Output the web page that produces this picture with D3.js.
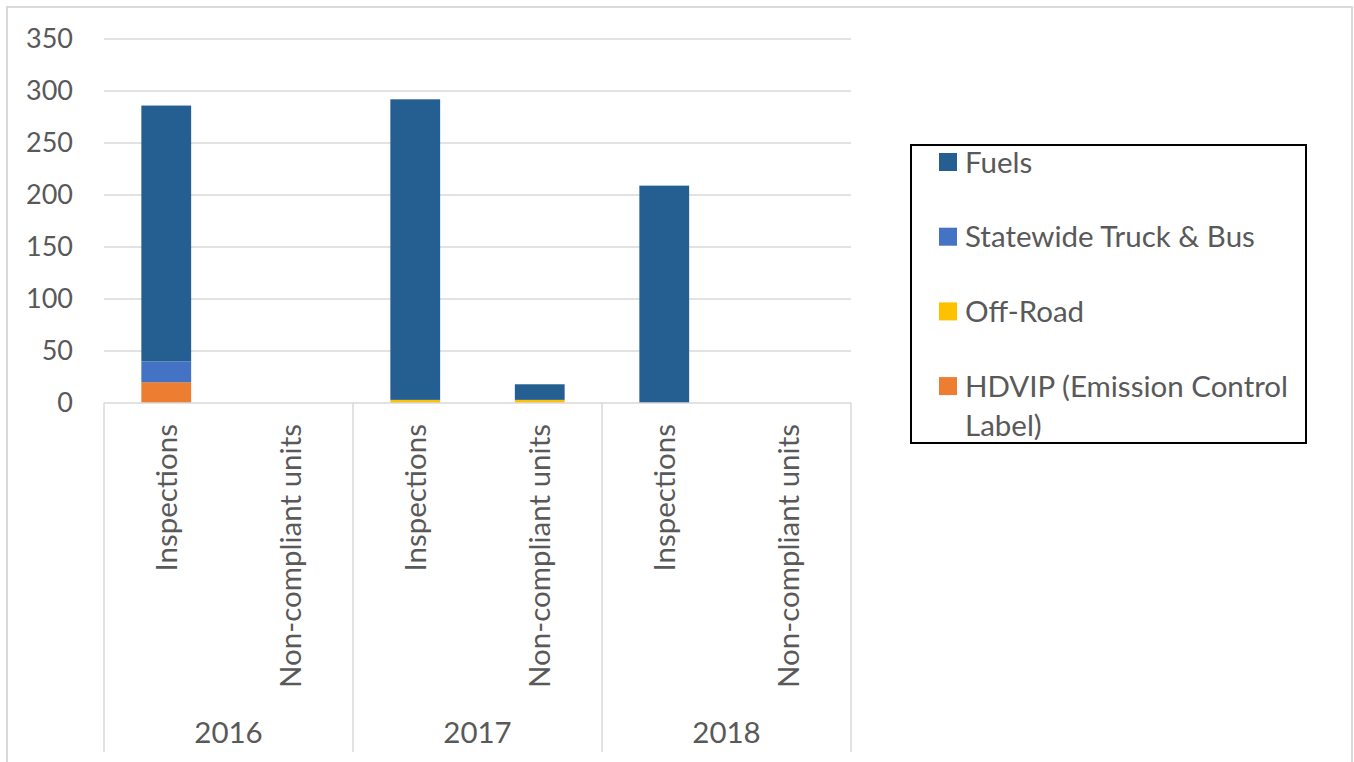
<!DOCTYPE html>
<html>
<head>
<meta charset="utf-8">
<script src="https://cdn.jsdelivr.net/npm/d3@7"></script>
<style>
  body { margin: 0; background: #fff; }
  text { font-family: Lato, "Open Sans", sans-serif; fill: #595959; }
</style>
</head>
<body>
<svg></svg>
<script>
let years = ['2016', '2017', '2018']
let measures = ['Inspections', 'Non-compliant units']
let seriesNames = ['HDVIP (Emission Control Label)', 'Off-Road', 'Statewide Truck & Bus', 'Fuels']
// values in order: 2016 Insp, 2016 NC, 2017 Insp, 2017 NC, 2018 Insp, 2018 NC
let hdvip = [20, 0, 0, 0, 0, 0]
let offRoad = [0, 0, 3, 3, 0, 0]
let statewide = [20, 0, 0, 0, 0, 0]
let fuels = [246, 0, 289, 15, 209, 0]
let yTicks = [0, 50, 100, 150, 200, 250, 300, 350]
let colors = ['#ed7d31', '#ffc000', '#4472c4', '#255e91']

let width = 1354
let height = 762
let plotLeft = 104
let plotRight = 851
let plotTop = 39
let plotBottom = 403
let labelSize = 29.5

let svg = d3.select('svg')
    .attr('width', width)
    .attr('height', height)

// outer chart border
svg.append('rect')
   .attr('x', 7)
   .attr('y', 7)
   .attr('width', 1345)
   .attr('height', 765)
   .attr('fill', 'none')
   .attr('stroke', '#d9d9d9')
   .attr('stroke-width', 2)

let rows = []
years.forEach((yr, i) => {
    measures.forEach((m, j) => {
        let k = i * measures.length + j
        rows.push({
            year: yr, measure: m,
            hdvip: hdvip[k], offRoad: offRoad[k], statewide: statewide[k], fuels: fuels[k]
        })
    })
})
let keys = ['hdvip', 'offRoad', 'statewide', 'fuels']
let stacked = d3.stack().keys(keys)(rows)

let yScale = d3.scaleLinear()
               .domain([0, 350])
               .range([plotBottom, plotTop])

let x0 = d3.scaleBand()
           .domain(years)
           .range([plotLeft, plotRight])

let x1 = d3.scaleBand()
           .domain(measures)
           .range([0, x0.bandwidth()])
           .paddingInner(0.6)
           .paddingOuter(0.3)

// gridlines
svg.append('g')
   .selectAll('line')
   .data(yTicks.filter(t => t > 0))
   .enter()
   .append('line')
   .attr('x1', plotLeft)
   .attr('x2', plotRight)
   .attr('y1', d => yScale(d))
   .attr('y2', d => yScale(d))
   .attr('stroke', '#d9d9d9')
   .attr('stroke-width', 1.5)

// y axis labels
let yAxis = d3.axisLeft(yScale).tickValues(yTicks).tickSize(0).tickPadding(31)
let yg = svg.append('g')
   .attr('transform', 'translate(' + plotLeft + ',0)')
   .call(yAxis)
yg.select('.domain').remove()
yg.selectAll('text')
  .attr('font-size', 27)
  .style('font-family', 'Lato, sans-serif')
  .attr('fill', '#595959')

// bars
svg.append('g')
   .selectAll('g')
   .data(stacked)
   .enter()
   .append('g')
   .attr('fill', (d, i) => colors[i])
   .selectAll('rect')
   .data(d => d)
   .enter()
   .append('rect')
   .attr('x', d => x0(d.data.year) + x1(d.data.measure))
   .attr('width', x1.bandwidth())
   .attr('y', d => yScale(d[1]))
   .attr('height', d => yScale(d[0]) - yScale(d[1]))

// category axis line and group separators
svg.append('line')
   .attr('x1', plotLeft)
   .attr('x2', plotRight)
   .attr('y1', plotBottom)
   .attr('y2', plotBottom)
   .attr('stroke', '#d9d9d9')
   .attr('stroke-width', 1.5)

let sepPositions = years.map(y => x0(y)).concat([plotRight])
svg.append('g')
   .selectAll('line')
   .data(sepPositions)
   .enter()
   .append('line')
   .attr('x1', d => d)
   .attr('x2', d => d)
   .attr('y1', plotBottom)
   .attr('y2', 752)
   .attr('stroke', '#d9d9d9')
   .attr('stroke-width', 1.5)

// rotated category labels
svg.append('g')
   .selectAll('text')
   .data(rows)
   .enter()
   .append('text')
   .attr('transform', d => {
       let cx = x0(d.year) + x1(d.measure) + x1.bandwidth() / 2
       return 'translate(' + cx + ',424) rotate(-90)'
   })
   .attr('text-anchor', 'end')
   .attr('dy', '0.36em')
   .attr('font-size', labelSize)
   .text(d => d.measure)

// year labels
svg.append('g')
   .selectAll('text')
   .data(years)
   .enter()
   .append('text')
   .attr('x', d => x0(d) + x0.bandwidth() / 2)
   .attr('y', 732)
   .attr('dy', '0.36em')
   .attr('text-anchor', 'middle')
   .attr('font-size', labelSize)
   .text(d => d)

// legend
let legend = svg.append('g')
legend.append('rect')
      .attr('x', 911)
      .attr('y', 145)
      .attr('width', 395)
      .attr('height', 298)
      .attr('fill', '#fff')
      .attr('stroke', '#000')
      .attr('stroke-width', 2)

let legendItems = [
    { name: ['Fuels'], color: colors[3] },
    { name: ['Statewide Truck & Bus'], color: colors[2] },
    { name: ['Off-Road'], color: colors[1] },
    { name: ['HDVIP (Emission Control', 'Label)'], color: colors[0] }
]
legendItems.forEach((item, i) => {
    let cy = 162 + i * 74.7
    legend.append('rect')
          .attr('x', 939)
          .attr('y', cy - 9)
          .attr('width', 18)
          .attr('height', 18)
          .attr('fill', item.color)
    item.name.forEach((line, j) => {
        legend.append('text')
              .attr('x', 965)
              .attr('y', cy + j * 39)
              .attr('dy', '0.36em')
              .attr('font-size', labelSize)
              .text(line)
    })
})
</script>
</body>
</html>
